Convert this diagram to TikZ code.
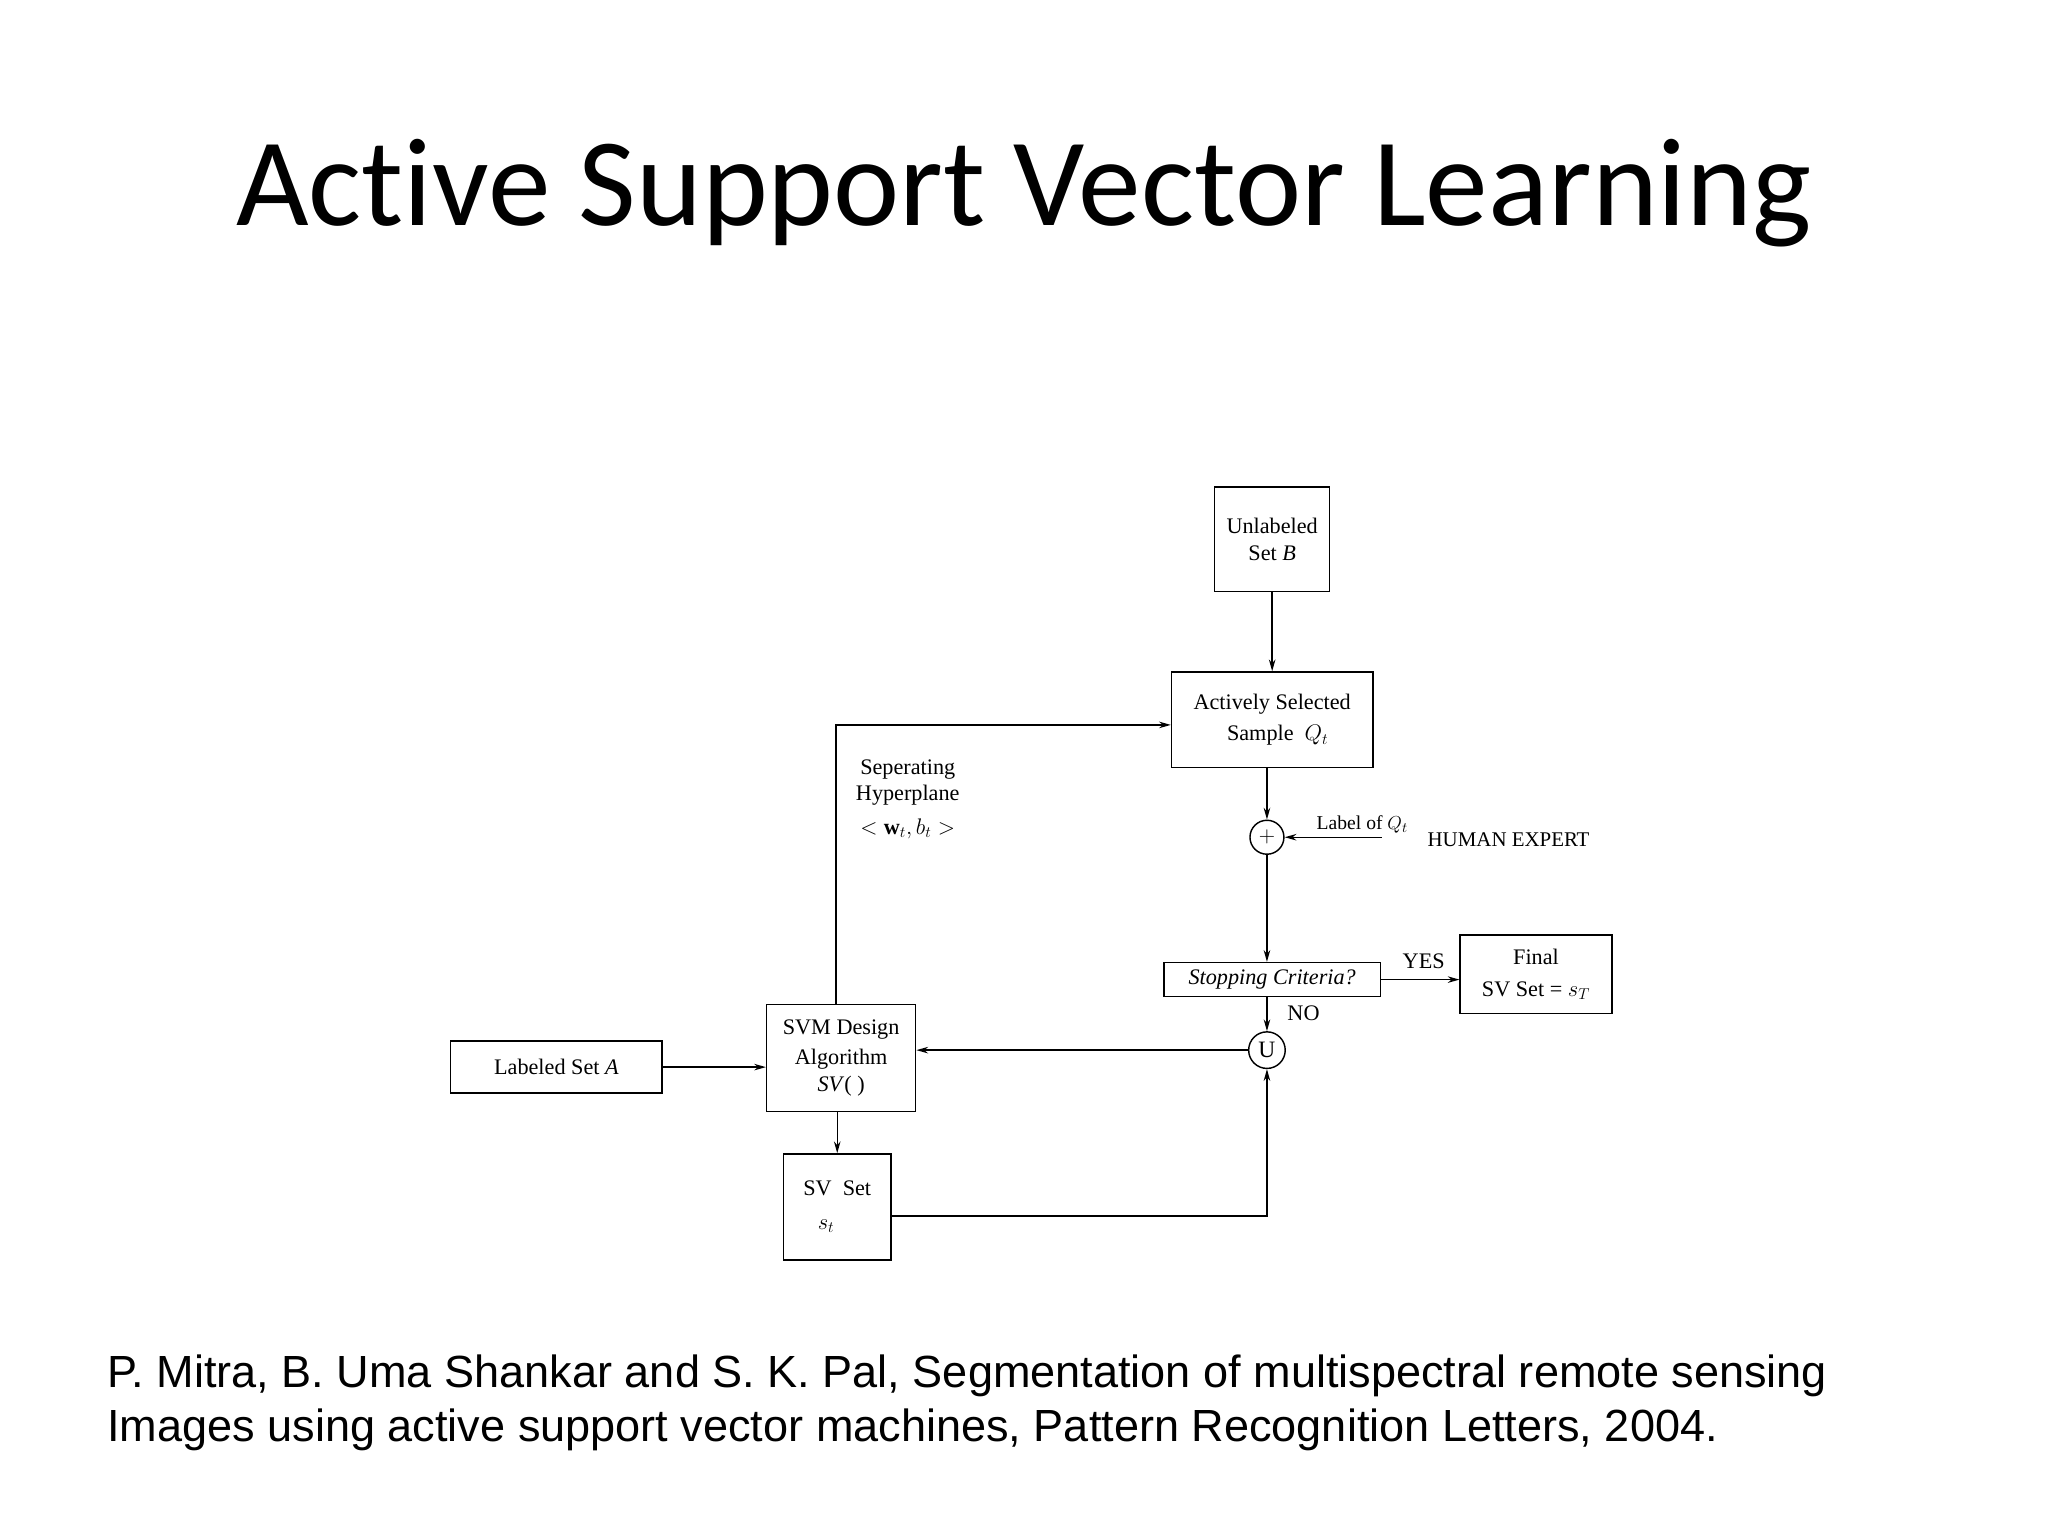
\documentclass[tikz,border=0pt]{standalone}
\usepackage{fontspec}
\setmainfont{Liberation Serif}
\newfontfamily\titlefont[Ligatures=NoCommon]{Carlito}
\newfontfamily\citefont{Liberation Sans}
\usetikzlibrary{arrows.meta}
\begin{document}
\begin{tikzpicture}[x=1pt,y=-1pt,
  box/.style={draw,line width=1.2pt,inner sep=0pt,font=\fontsize{17}{20}\selectfont,align=center},
  arr/.style={line width=1.1pt,-{Stealth[length=9pt,width=5pt]}},
  lbl/.style={font=\fontsize{17}{20}\selectfont,align=center,inner sep=0pt}]
\useasboundingbox (0,0) rectangle (1568,1176);
\node[font=\titlefont\fontsize{96}{100}\selectfont] (title) at (784,148) {Active Support Vector Learning};
\node[box,minimum width=88pt,minimum height=80pt] (ub) at (974,413) {Unlabeled\\Set \textit{B}};
\node[box,minimum width=154pt,minimum height=73pt] (as) at (974,551) {Actively Selected\\[4pt]\ \ Sample\ \ $Q_t$};
\node[draw,circle,line width=1.1pt,minimum size=26pt,inner sep=0pt,font=\fontsize{18}{20}\selectfont] (pl) at (970,641) {$+$};
\node[lbl,font=\fontsize{15}{17}\selectfont] (lq) at (1043,631) {Label of $Q_t$};
\node[lbl,font=\fontsize{16}{18}\selectfont] (he) at (1155,643) {HUMAN EXPERT};
\coordinate (hs) at (1058,641);
\node[box,minimum width=166pt,minimum height=26pt] (sc) at (974,750) {\textit{Stopping Criteria?}};
\node[box,minimum width=116pt,minimum height=60pt] (fi) at (1176,746) {Final\\[4pt]SV Set = $s_T$};
\node[lbl] (yes) at (1090,736) {YES};
\node[lbl] (no) at (998,776) {NO};
\node[draw,circle,line width=1.1pt,minimum size=28pt,inner sep=0pt,font=\fontsize{18}{20}\selectfont] (un) at (970,804) {U};
\node[box,minimum width=114pt,minimum height=82pt] (svm) at (644,810) {SVM Design\\[3pt]Algorithm\\[1pt]\textit{SV}( )};
\node[box,minimum width=162pt,minimum height=40pt] (la) at (426,817) {Labeled Set \textit{A}};
\node[box,minimum width=82pt,minimum height=81pt] (sv) at (641,924) {SV\ \ Set\\[6pt]$s_t$\ \ \ \ \ };
\node[lbl] (sh) at (695,612) {Seperating\\Hyperplane\\[6pt]$<\mathbf{w}_t,b_t>$};
\node[font=\citefont\fontsize{34.5}{42}\selectfont,align=left,anchor=west,inner sep=0pt] (cite) at (82,1074) {P. Mitra, B. Uma Shankar and S. K. Pal, Segmentation of multispectral remote sensing\\Images using active support vector machines, Pattern Recognition Letters, 2004.};
\draw[arr] (ub) -- (ub|-as.north);
\draw[arr] (as.south-|pl) -- (pl);
\draw[arr] (hs) -- (pl);
\draw[arr] (pl) -- (pl|-sc.north);
\draw[arr] (sc.south-|un) -- (un);
\draw[arr] (sc) -- (fi.west|-sc);
\draw[arr] (un) -- (un-|svm.east);
\draw[arr] (la) -- (svm.west|-la);
\draw[arr] (svm.south-|sv) -- (sv);
\draw[arr] (svm.north-|640,0) |- (as.west|-0,555);
\draw[arr] (sv.east|-0,931) -| (un);
\end{tikzpicture}
\end{document}
